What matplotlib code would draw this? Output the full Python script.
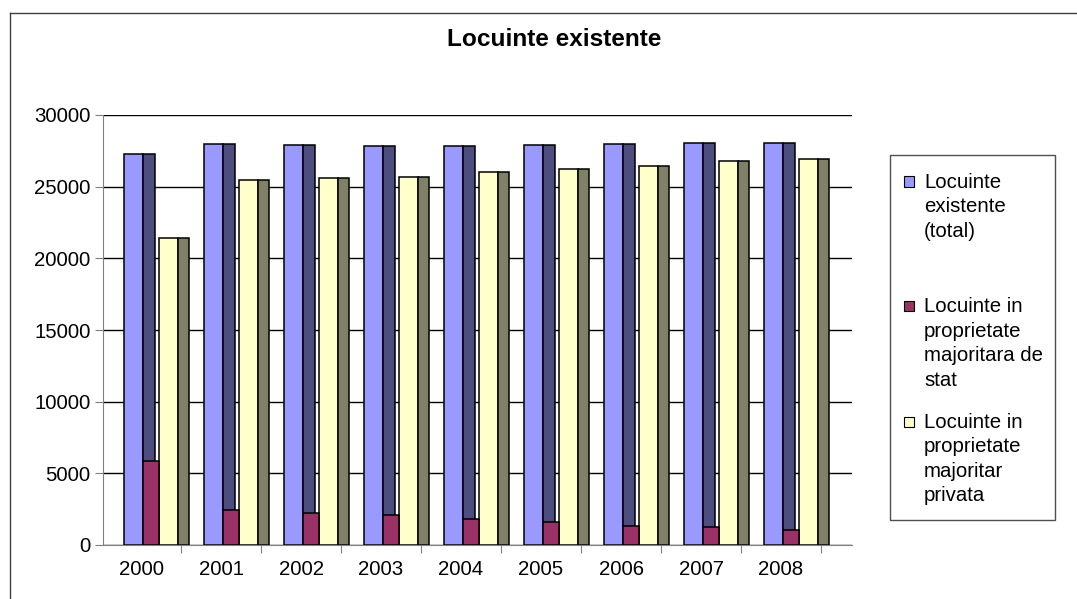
import numpy as np
import matplotlib
matplotlib.use("Agg")
import matplotlib.pyplot as plt
from matplotlib.lines import Line2D
from matplotlib.patches import Rectangle

plt.rcParams['font.family'] = ['Liberation Sans', 'DejaVu Sans']

# date
ani = ['2000', '2001', '2002', '2003', '2004', '2005', '2006', '2007', '2008']
total = [27300, 27950, 27900, 27850, 27850, 27880, 27980, 28030, 28050]
stat = [5860, 2440, 2250, 2090, 1810, 1580, 1350, 1230, 1070]
privat = [21420, 25440, 25580, 25700, 26020, 26230, 26460, 26770, 26950]

titlu = 'Locuinte existente'
etichete = ['Locuinte\nexistente\n(total)',
            'Locuinte in\nproprietate\nmajoritara de\nstat',
            'Locuinte in\nproprietate\nmajoritar\nprivata']

W, H = 1077, 599
fig = plt.figure(figsize=(W / 100, H / 100), dpi=100)


def fx(px):
    return px / W


def fy(py):
    return 1 - py / H


# chenarul exterior (sus si stanga)
fig.add_artist(Line2D([fx(10), 1], [fy(13), fy(13)], color='#404040', lw=1.0,
                      transform=fig.transFigure))
fig.add_artist(Line2D([fx(10), fx(10)], [fy(13), 0], color='#404040', lw=1.0,
                      transform=fig.transFigure))

ax = fig.add_axes([fx(103), fy(545), fx(852) - fx(103), fy(115) - fy(545)])

x = np.arange(len(ani))
kw = dict(align='edge', edgecolor='black', linewidth=1.1)
ax.bar(x + 0.29, total, width=0.237, color='#9999FF', zorder=2, **kw)
ax.bar(x + 0.527, total, width=0.143, color='#4D4D80', zorder=2, **kw)
ax.bar(x + 0.527, stat, width=0.2, color='#993366', zorder=3, **kw)
ax.bar(x + 0.727, privat, width=0.238, color='#FFFFCC', zorder=2, **kw)
ax.bar(x + 0.965, privat, width=0.138, color='#808066', zorder=2, **kw)

ax.set_xlim(0.025, 9.3875)
ax.set_ylim(0, 30000)
ax.set_yticks(range(0, 30001, 5000))
ax.set_yticklabels([str(v) for v in range(0, 30001, 5000)])
ax.set_xticks(np.arange(1, 10))
ax.set_xticklabels([])
ax.set_xticks(x + 0.5, minor=True)
ax.set_xticklabels(ani, minor=True)
ax.tick_params(axis='x', which='minor', length=0, pad=11, labelsize=14.7)
ax.tick_params(axis='x', which='major', length=6, color='#808080')
ax.tick_params(axis='y', length=6, color='#808080', pad=3, labelsize=14.7)

ax.grid(axis='y', color='black', linewidth=1.0, zorder=0)
ax.set_axisbelow(True)
for s in ['top', 'right']:
    ax.spines[s].set_visible(False)
for s in ['left', 'bottom']:
    ax.spines[s].set_color('#808080')

fig.text(fx(554), fy(46), titlu, ha='center', va='baseline',
         fontsize=17.6, fontweight='bold')

# legenda desenata manual
fig.add_artist(Rectangle((fx(890), fy(520)), fx(1055) - fx(890), fy(155) - fy(520),
                         transform=fig.transFigure, facecolor='white',
                         edgecolor='#505050', lw=1.0))
culori = ['#9999FF', '#993366', '#FFFFCC']
baze = [187.5, 312, 427.5]
for cul, et, b in zip(culori, etichete, baze):
    fig.add_artist(Rectangle((fx(904), fy(b - 1)), fx(10), 10 / H,
                             transform=fig.transFigure, facecolor=cul,
                             edgecolor='black', lw=0.8))
    for i, linie in enumerate(et.split('\n')):
        fig.text(fx(924), fy(b + i * 24.6), linie, ha='left', va='baseline',
                 fontsize=14.7)

fig.savefig('out.png', dpi=100)
